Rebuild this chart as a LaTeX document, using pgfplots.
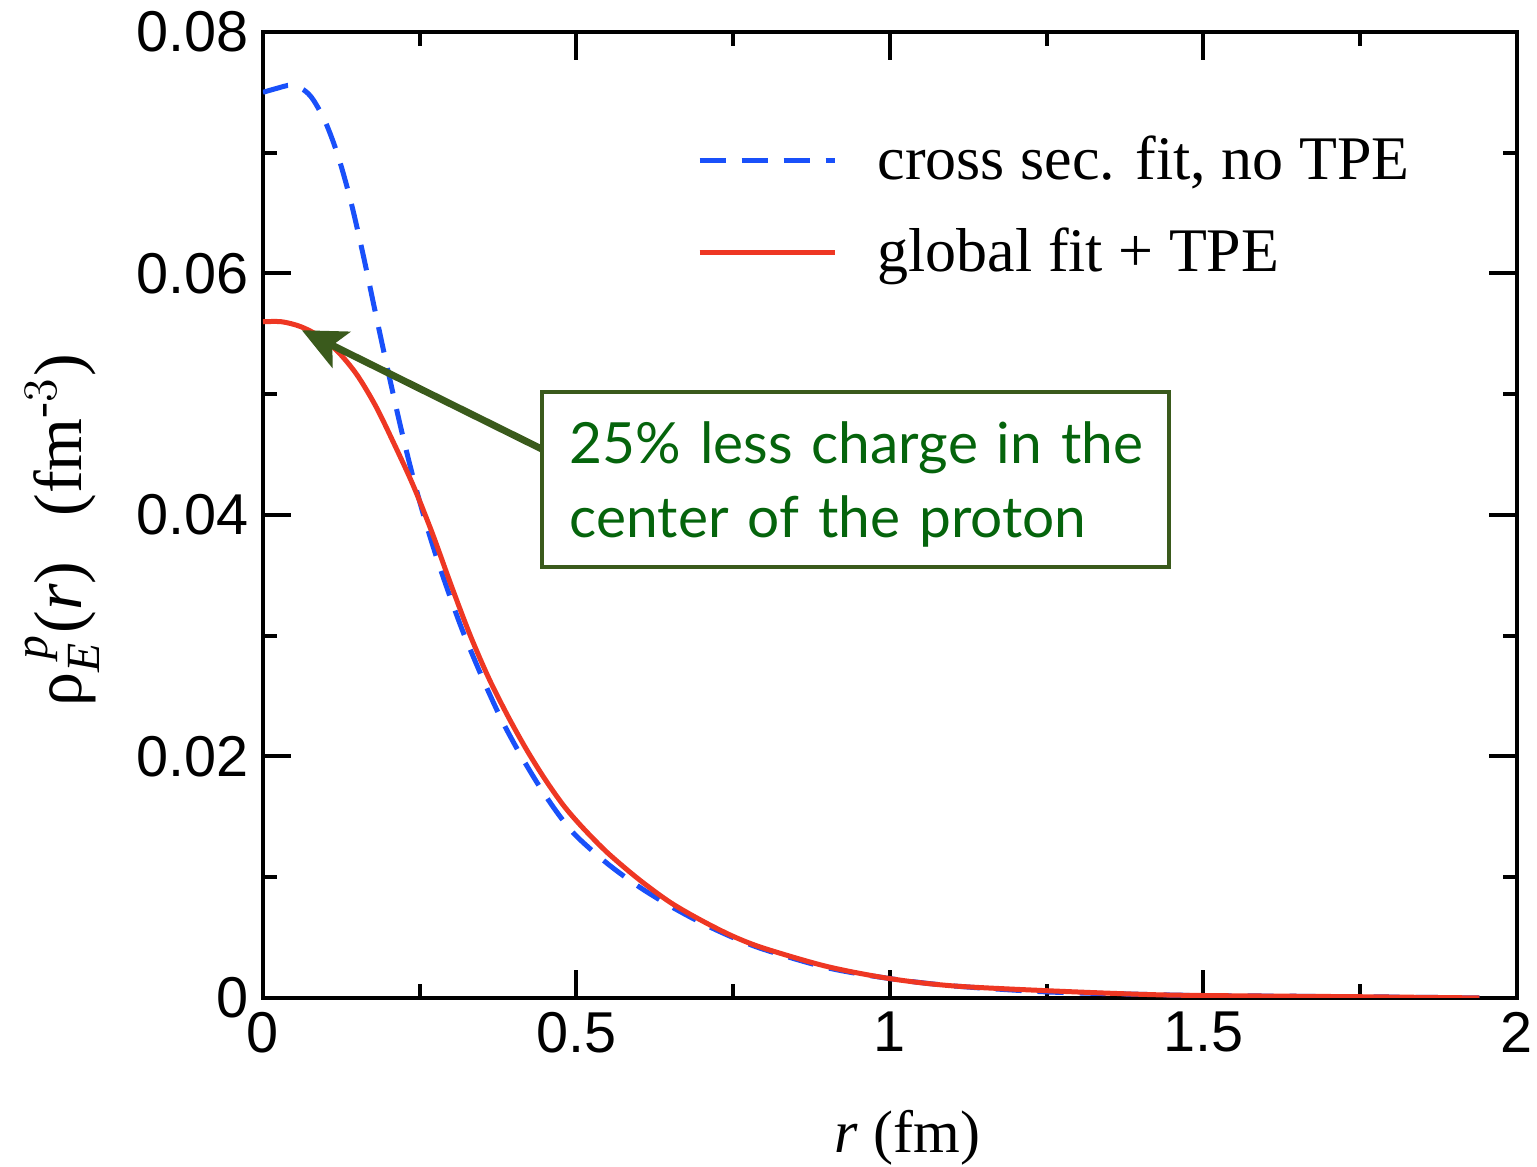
\documentclass[border=0pt]{standalone}
\usepackage{fontspec}
\setmainfont{Liberation Serif}
\newfontfamily\ticksfont{Liberation Sans}
\newfontfamily\annfont{Lato}
\usepackage{amsmath}
\usepackage{pgfplots}
\pgfplotsset{compat=1.18}
\usetikzlibrary{arrows.meta}
\definecolor{cblue}{RGB}{25,80,250}
\definecolor{cred}{RGB}{238,55,35}
\definecolor{annborder}{RGB}{58,90,28}
\definecolor{anntext}{RGB}{5,100,12}
\begin{document}
\begin{tikzpicture}
\begin{axis}[
  scale only axis,
  width=313.5pt, height=241.5pt,
  xmin=0, xmax=2, ymin=0, ymax=0.08,
  xtick={0,0.5,1,1.5,2},
  ytick={0,0.02,0.04,0.06,0.08},
  minor x tick num=1, minor y tick num=1,
  scaled y ticks=false,
  yticklabel style={/pgf/number format/.cd, fixed, precision=2},
  tick align=inside,
  xtick pos=both, ytick pos=both,
  xticklabel pos=lower, yticklabel pos=left,
  major tick length=7pt, minor tick length=3.5pt,
  every tick/.style={black, line width=1pt},
  axis line style={line width=1pt},
  ticklabel style={font=\ticksfont\fontsize{14.4}{16}\selectfont},
  /pgf/number format/assume math mode=true,
  xlabel={\textit{r} (fm)},
  ylabel={ρ$_{\textit{E}}^{\;\textit{p}}$(\textit{r})\enspace\,(fm$^{\text{-}3}$)},
  xlabel style={font=\fontsize{15}{18}\selectfont, at={(rel axis cs:0.514,-0.145)}, anchor=center},
  ylabel style={font=\fontsize{17}{20}\selectfont, at={(rel axis cs:-0.160,0.484)}, anchor=center},
  legend style={at={(rel axis cs:0.336,0.91)}, anchor=north west, draw=none, fill=none,
    font=\fontsize{15.5}{18}\selectfont, row sep=6.5pt},
  legend cell align=left,
  legend image code/.code={\draw[#1] (0cm,0cm) -- (1.19cm,0cm);},
  /tikz/every odd column/.append style={column sep=8pt},
]
\addplot[cblue, line width=1.25pt, dash pattern=on 6.5pt off 4pt, smooth, tension=0.5] coordinates {
(0,0.0750) (0.02,0.0753) (0.045,0.0756) (0.065,0.0752) (0.08,0.0744)
(0.10,0.0725) (0.12,0.0697) (0.14,0.0660) (0.16,0.0615) (0.18,0.0566)
(0.20,0.0518) (0.22,0.0472) (0.24,0.0430) (0.26,0.0393) (0.28,0.0360)
(0.30,0.0330) (0.32,0.0302) (0.35,0.0265) (0.38,0.0231) (0.41,0.0202)
(0.44,0.0176) (0.47,0.0153) (0.50,0.0134) (0.55,0.0111) (0.60,0.0092)
(0.65,0.0076) (0.70,0.0062) (0.75,0.0050) (0.80,0.0040) (0.90,0.0025)
(1.00,0.0016) (1.10,0.0010) (1.25,0.0005) (1.40,0.0003) (1.50,0.0002)
(1.75,0.0001) (1.94,0.0)
};
\addlegendentry{cross sec. fit, no TPE}
\addplot[cred, line width=1.25pt, smooth, tension=0.5] coordinates {
(0,0.0560) (0.03,0.0560) (0.06,0.0556) (0.09,0.0548) (0.12,0.0535)
(0.15,0.0516) (0.18,0.0490) (0.21,0.0458) (0.24,0.0424) (0.27,0.0385)
(0.30,0.0342) (0.33,0.0301) (0.36,0.0265) (0.39,0.0234) (0.42,0.0206)
(0.45,0.0181) (0.48,0.0159) (0.51,0.0141) (0.55,0.0120) (0.60,0.0098)
(0.65,0.0079) (0.70,0.0064) (0.75,0.0051) (0.80,0.0041) (0.90,0.0026)
(1.00,0.0016) (1.10,0.0010) (1.25,0.0006) (1.40,0.0003) (1.50,0.0002)
(1.75,0.0001) (1.94,0.0)
};
\addlegendentry{global fit + TPE}
\draw[annborder, line width=1.75pt, -{Stealth[length=11pt,width=10pt,inset=2.5pt]}]
  (axis cs:0.447,0.0454) -- (axis cs:0.062,0.0553);
\node[draw=annborder, line width=1pt, fill=white, minimum width=156.75pt,
  minimum height=43.75pt, inner sep=0pt] at (axis cs:0.945,0.04294) {};
\node[text width=142.75pt, inner sep=0pt, align=left, text=anntext, yshift=-1.3pt,
  font=\annfont\fontsize{14.2}{18.4}\selectfont]
  at (axis cs:0.945,0.04294) {\mbox{25\% less charge in the}\\\mbox{center of the proton}};
\coordinate (bl) at (rel axis cs:-0.2097,-0.175);
\coordinate (tr) at (rel axis cs:1.016,1.0331);
\end{axis}
\pgfresetboundingbox
\path (bl) rectangle (tr);
\end{tikzpicture}
\end{document}
